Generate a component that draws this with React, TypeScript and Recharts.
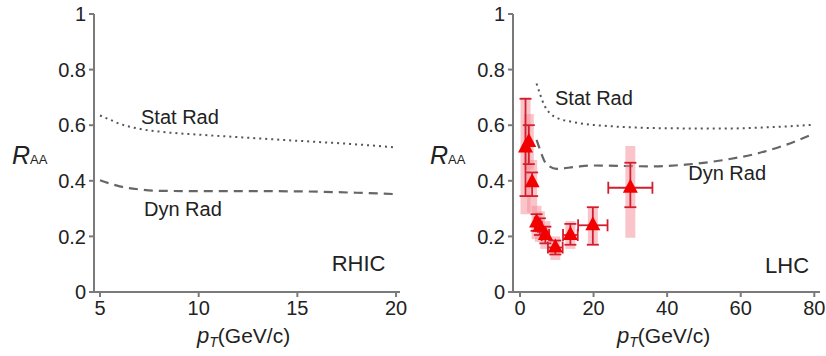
import {
  ComposedChart,
  Line,
  Scatter,
  ErrorBar,
  XAxis,
  YAxis,
  ReferenceDot,
} from "recharts";

const FONT = "'Liberation Sans', Arial, sans-serif";
const AXIS_COLOR = "#7a7a7a";
const TEXT = "#222";

// RHIC panel model curves
const RHIC_STAT = [
  { x: 5, y: 0.635 },
  { x: 5.5, y: 0.62 },
  { x: 6, y: 0.605 },
  { x: 7, y: 0.587 },
  { x: 8, y: 0.577 },
  { x: 10, y: 0.566 },
  { x: 12, y: 0.557 },
  { x: 15, y: 0.544 },
  { x: 18, y: 0.531 },
  { x: 20, y: 0.52 },
];
const RHIC_DYN = [
  { x: 5, y: 0.402 },
  { x: 5.5, y: 0.39 },
  { x: 6, y: 0.38 },
  { x: 7, y: 0.369 },
  { x: 8, y: 0.364 },
  { x: 10, y: 0.363 },
  { x: 12, y: 0.363 },
  { x: 15, y: 0.362 },
  { x: 18, y: 0.357 },
  { x: 20, y: 0.352 },
];

// LHC panel model curves
const LHC_STAT = [
  { x: 4.5, y: 0.75 },
  { x: 5.5, y: 0.71 },
  { x: 6.5, y: 0.675 },
  { x: 8, y: 0.645 },
  { x: 10, y: 0.627 },
  { x: 15, y: 0.61 },
  { x: 25, y: 0.596 },
  { x: 40, y: 0.589 },
  { x: 55, y: 0.588 },
  { x: 70, y: 0.594 },
  { x: 80, y: 0.602 },
];
const LHC_DYN = [
  { x: 4.5, y: 0.547 },
  { x: 5.5, y: 0.51 },
  { x: 6.5, y: 0.475 },
  { x: 8, y: 0.452 },
  { x: 10, y: 0.443 },
  { x: 15, y: 0.45 },
  { x: 20, y: 0.455 },
  { x: 35, y: 0.452 },
  { x: 45, y: 0.458 },
  { x: 55, y: 0.474 },
  { x: 65, y: 0.5 },
  { x: 72, y: 0.528 },
  { x: 80, y: 0.57 },
];

// LHC measured points: stat / sys errors are [below, above]
const LHC_PT = [1.5, 2.4, 3.3, 4.5, 5.4, 6.9, 9.6, 13.7, 19.8, 30];
const LHC_RAA = [0.52, 0.54, 0.395, 0.25, 0.235, 0.205, 0.16, 0.205, 0.24, 0.375];
const LHC_STAT_ERR = [
  [0.175, 0.175],
  [0.08, 0.06],
  [0.05, 0.035],
  [0.03, 0.03],
  [0.03, 0.03],
  [0.03, 0.03],
  [0.025, 0.025],
  [0.035, 0.04],
  [0.07, 0.065],
  [0.07, 0.09],
];
const LHC_SYS_ERR = [
  [0.24, 0.18],
  [0.1, 0.1],
  [0.11, 0.08],
  [0.06, 0.06],
  [0.055, 0.055],
  [0.05, 0.05],
  [0.045, 0.04],
  [0.05, 0.05],
  [0.07, 0.065],
  [0.18, 0.15],
];
const LHC_PT_ERR = [0, 0, 0, 0.5, 0.5, 1, 2, 2, 4, 6];

const LHC_POINTS = LHC_PT.map((x, i) => ({
  x,
  y: LHC_RAA[i],
  stat: LHC_STAT_ERR[i],
  sys: LHC_SYS_ERR[i],
  ex: LHC_PT_ERR[i],
}));

const Y_TICKS = [0, 0.2, 0.4, 0.6, 0.8, 1];
const RHIC_TICKS = [5, 10, 15, 20];
const LHC_TICKS = [0, 20, 40, 60, 80];

const RHIC_NOTES = [
  { x: 9.05, y: 0.63, text: "Stat Rad", size: 20 },
  { x: 9.2, y: 0.3, text: "Dyn Rad", size: 20 },
  { x: 18.1, y: 0.104, text: "RHIC", size: 22 },
];
const LHC_NOTES = [
  { x: 20.1, y: 0.7, text: "Stat Rad", size: 20 },
  { x: 56.3, y: 0.428, text: "Dyn Rad", size: 20 },
  { x: 72.6, y: 0.097, text: "LHC", size: 22 },
];

const fmtY = (v: number) => (v === 0 || v === 1 ? String(v) : v.toFixed(1));

function Triangle(props: any) {
  const { cx, cy } = props;
  if (cx == null || cy == null) return null;
  return (
    <polygon
      points={`${cx},${cy - 9} ${cx - 7.5},${cy + 5} ${cx + 7.5},${cy + 5}`}
      fill="#f20000"
    />
  );
}

const yLabel = (left: number) => (props: any) => (
  <text x={left} y={164} fontFamily={FONT} fill={TEXT}>
    <tspan fontSize={25} fontStyle="italic">R</tspan>
    <tspan fontSize={13}>AA</tspan>
  </text>
);

const xLabel = (left: number) => (props: any) => (
  <text x={left} y={343} fontFamily={FONT} fill={TEXT}>
    <tspan fontSize={22} fontStyle="italic">p</tspan>
    <tspan fontSize={14} fontStyle="italic" dy={4}>T</tspan>
    <tspan fontSize={21} dy={-4}>(GeV/c)</tspan>
  </text>
);

function Panel({
  left,
  yAxisWidth,
  rightMargin,
  domain,
  ticks,
  stat,
  dyn,
  notes,
  points,
  yLabelX,
  xLabelX,
}: {
  left: number;
  yAxisWidth: number;
  rightMargin: number;
  domain: [number, number];
  ticks: number[];
  stat: { x: number; y: number }[];
  dyn: { x: number; y: number }[];
  notes: { x: number; y: number; text: string; size: number }[];
  points?: typeof LHC_POINTS;
  yLabelX: number;
  xLabelX: number;
}) {
  const tickStyle = { fontSize: 20, fill: TEXT, fontFamily: FONT };
  return (
    <div style={{ position: "absolute", left, top: 0 }}>
      <ComposedChart
        width={413}
        height={356}
        margin={{ top: 14, right: rightMargin, left: 0, bottom: 34 }}
      >
        <XAxis
          dataKey="x"
          type="number"
          domain={domain}
          ticks={ticks}
          allowDataOverflow
          height={30}
          tick={tickStyle}
          tickSize={5}
          tickMargin={4}
          stroke={AXIS_COLOR}
          strokeWidth={2}
          label={{ content: xLabel(xLabelX) }}
        />
        <XAxis
          xAxisId="top"
          orientation="top"
          type="number"
          domain={domain}
          height={0}
          tick={false}
          tickLine={false}
          stroke={AXIS_COLOR}
          strokeWidth={2}
        />
        <YAxis
          dataKey="y"
          type="number"
          domain={[0, 1]}
          ticks={Y_TICKS}
          width={yAxisWidth}
          tick={tickStyle}
          tickFormatter={fmtY}
          tickSize={5}
          tickMargin={3}
          stroke={AXIS_COLOR}
          strokeWidth={2}
          label={{ content: yLabel(yLabelX) }}
        />
        <YAxis
          yAxisId="right"
          orientation="right"
          type="number"
          domain={[0, 1]}
          width={0}
          tick={false}
          tickLine={false}
          stroke={AXIS_COLOR}
          strokeWidth={2}
        />
        <Line
          data={stat}
          dataKey="y"
          type="monotone"
          stroke="#555"
          strokeWidth={2}
          strokeDasharray="2 4"
          dot={false}
          isAnimationActive={false}
        />
        <Line
          data={dyn}
          dataKey="y"
          type="monotone"
          stroke="#666"
          strokeWidth={2.2}
          strokeDasharray="9 6"
          dot={false}
          isAnimationActive={false}
        />
        {points && (
          <Scatter
            data={points}
            dataKey="y"
            shape={Triangle}
            isAnimationActive={false}
          >
            <ErrorBar
              dataKey="sys"
              direction="y"
              width={0}
              stroke="rgba(246,140,150,0.5)"
              strokeWidth={10}
            />
            <ErrorBar
              dataKey="stat"
              direction="y"
              width={6}
              stroke="#d21f2e"
              strokeWidth={1.8}
            />
            <ErrorBar
              dataKey="ex"
              direction="x"
              width={6}
              stroke="#d21f2e"
              strokeWidth={1.8}
            />
          </Scatter>
        )}
        {notes.map((n) => (
          <ReferenceDot
            key={n.text}
            x={n.x}
            y={n.y}
            r={0}
            stroke="none"
            fill="none"
            label={{
              value: n.text,
              position: "center",
              fontSize: n.size,
              fill: TEXT,
              fontFamily: FONT,
            }}
          />
        ))}
      </ComposedChart>
    </div>
  );
}

export default function App() {
  return (
    <div
      style={{
        position: "absolute",
        left: 0,
        top: 0,
        width: 826,
        height: 356,
        background: "#fff",
      }}
    >
      <Panel
        left={0}
        yAxisWidth={94}
        rightMargin={13}
        domain={[4.696, 20.2]}
        ticks={RHIC_TICKS}
        stat={RHIC_STAT}
        dyn={RHIC_DYN}
        notes={RHIC_NOTES}
        yLabelX={12}
        xLabelX={197}
      />
      <Panel
        left={413}
        yAxisWidth={100}
        rightMargin={6}
        domain={[-1.9, 81.55]}
        ticks={LHC_TICKS}
        stat={LHC_STAT}
        dyn={LHC_DYN}
        notes={LHC_NOTES}
        points={LHC_POINTS}
        yLabelX={17}
        xLabelX={204}
      />
    </div>
  );
}
